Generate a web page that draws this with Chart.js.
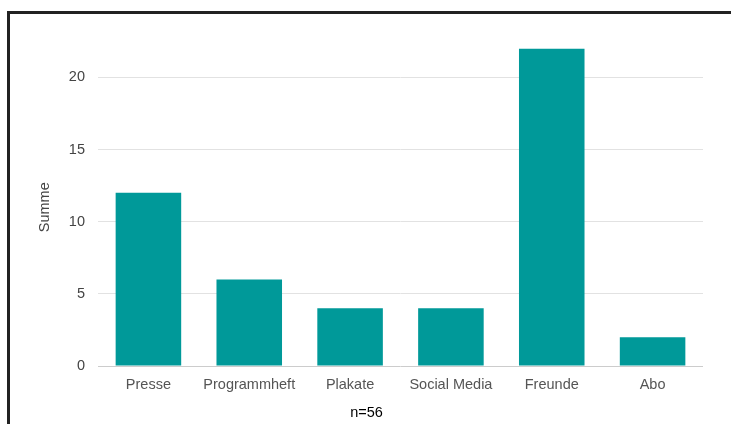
<!DOCTYPE html>
<html>
<head>
<meta charset="utf-8">
<script src="https://cdn.jsdelivr.net/npm/chart.js@4"></script>
<style>
  html, body { margin: 0; padding: 0; background: #fff; overflow: hidden; }
  body { width: 731px; height: 424px; position: relative; }
  .frame {
    position: absolute; left: 7px; top: 11px; width: 800px; height: 500px;
    border-left: 3px solid #222; border-top: 3px solid #222;
  }
  .chart-box { position: absolute; left: 10px; top: 0; width: 693px; height: 424px; }
</style>
</head>
<body>
<div class="frame"></div>
<div class="chart-box"><canvas id="chart"></canvas></div>
<script>
const categories = ['Presse', 'Programmheft', 'Plakate', 'Social Media', 'Freunde', 'Abo'];
const sums = [12, 6, 4, 4, 22, 2];
const yTicks = [0, 5, 10, 15, 20];
const sampleNote = 'n=56';

const FONT = "Arial, 'Liberation Sans', sans-serif";

new Chart(document.getElementById('chart'), {
  type: 'bar',
  data: {
    labels: categories,
    datasets: [{
      label: 'Summe',
      data: sums,
      backgroundColor: '#009999',
      barPercentage: 0.65,
      categoryPercentage: 1
    }]
  },
  options: {
    responsive: true,
    maintainAspectRatio: false,
    animation: false,
    layout: { padding: { top: 48.5, left: 20, right: 0, bottom: 0 } },
    plugins: {
      legend: { display: false },
      tooltip: { enabled: false },
      title: {
        display: true,
        position: 'bottom',
        text: sampleNote,
        color: '#000',
        font: { family: FONT, size: 14.5, weight: 'normal' },
        padding: { top: 0, bottom: 2 }
      }
    },
    scales: {
      x: {
        grid: { display: false, drawTicks: false },
        border: { display: false },
        ticks: { color: '#555', padding: 10, font: { family: FONT, size: 14.5 } },
        afterFit: (s) => { s.height = 38.6; }
      },
      y: {
        min: 0,
        max: Math.max(...sums),
        afterBuildTicks: (s) => { s.ticks = yTicks.map(v => ({ value: v })); },
        border: { display: false },
        grid: {
          drawTicks: false,
          color: (ctx) => ctx.tick && ctx.tick.value === 0 ? '#cccccc' : '#e2e2e2'
        },
        ticks: { color: '#444', padding: 13, font: { family: FONT, size: 14.5 } },
        title: {
          display: true,
          text: 'Summe',
          color: '#444',
          font: { family: FONT, size: 14.5 },
          padding: { top: 6, bottom: 0 }
        },
        afterFit: (s) => { s.width = 68; }
      }
    }
  }
});
</script>
</body>
</html>
